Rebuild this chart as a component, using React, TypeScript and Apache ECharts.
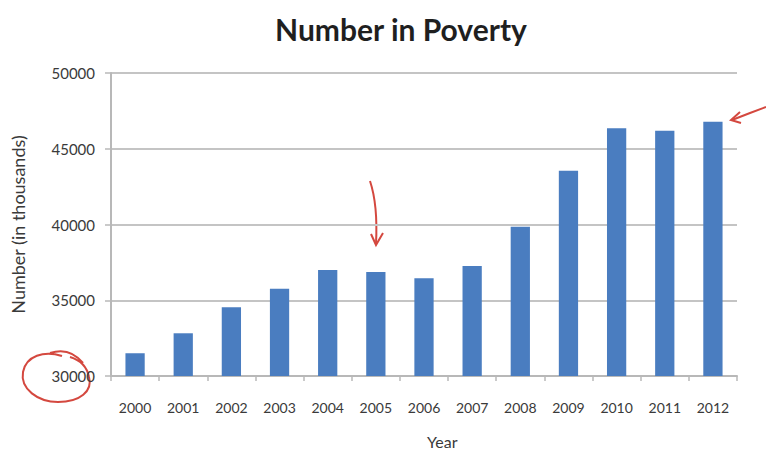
import React, { useEffect, useRef } from "react";
import * as echarts from "echarts";

const years = ["2000","2001","2002","2003","2004","2005","2006","2007","2008","2009","2010","2011","2012"];
const povertyThousands = [31500, 32820, 34530, 35760, 37000, 36870, 36450, 37260, 39850, 43550, 46350, 46190, 46780];
const yTicks = { min: 30000, max: 50000, interval: 5000 };

const circlePath =
  "M 62 356 C 44 350 26 356 23 372 C 20 389 38 402 58 402 C 80 402 93 391 89 377 C 87 367 80 360 70 357 M 50 353 C 62 349 74 352 83 363";

echarts.graphic.registerShape("circle30k", echarts.graphic.extendPath(circlePath, {}));

export default function App() {
  const ref = useRef<HTMLDivElement>(null);
  useEffect(() => {
    if (!ref.current) return;
    const chart = echarts.init(ref.current, undefined, { renderer: "svg" });
    const red = "#d4483f";
    chart.setOption({
      animation: false,
      backgroundColor: "#ffffff",
      title: {
        text: "Number in Poverty",
        left: 396,
        top: 9,
        textAlign: "center",
        textStyle: { fontFamily: "Lato", fontWeight: "bold", fontSize: 30, color: "#1f1f1f" },
      },
      grid: { left: 111, right: 29, top: 73, bottom: 79, containLabel: false },
      xAxis: {
        type: "category",
        data: years,
        axisLine: { lineStyle: { color: "#b8b8b8", width: 2 } },
        axisTick: { show: true, length: 5, lineStyle: { color: "#b8b8b8", width: 1.5 } },
        axisLabel: { fontFamily: "Lato", fontSize: 14, color: "#3a3a3a", margin: 24 },
      },
      yAxis: {
        type: "value",
        min: yTicks.min,
        max: yTicks.max,
        interval: yTicks.interval,
        name: "Number (in thousands)",
        nameLocation: "middle",
        nameGap: 84,
        nameTextStyle: { fontFamily: "Lato", fontSize: 18, color: "#3a3a3a" },
        axisLine: { show: true, lineStyle: { color: "#b8b8b8", width: 2 } },
        axisTick: { show: true, length: 6, lineStyle: { color: "#b8b8b8", width: 1.5 } },
        axisLabel: {
          fontFamily: "Lato",
          fontSize: 15,
          color: "#3a3a3a",
          margin: 16,
          formatter: (v: number) => String(v),
        },
        splitLine: { lineStyle: { color: "#c4c4c4", width: 2 } },
      },
      series: [
        {
          type: "bar",
          data: povertyThousands,
          barWidth: "40%",
          itemStyle: { color: "#4a7dc0" },
        },
      ],
      graphic: [
        {
          type: "text",
          left: 427,
          top: 433,
          style: { text: "Year", font: "16px Lato", fill: "#3a3a3a" },
        },
        {
          type: "circle30k",
          x: 0,
          y: 0,
          style: { fill: "none", stroke: red, lineWidth: 2 },
        },
        {
          type: "bezierCurve",
          shape: { x1: 370, y1: 181, cpx1: 378, cpy1: 205, x2: 376, y2: 244 },
          style: { fill: "none", stroke: red, lineWidth: 2 },
        },
        {
          type: "polyline",
          shape: { points: [[371, 234], [376, 245], [383, 233]] },
          style: { fill: "none", stroke: red, lineWidth: 2 },
        },
        {
          type: "polyline",
          shape: { points: [[766, 107], [750, 113], [732, 120]] },
          style: { fill: "none", stroke: red, lineWidth: 2 },
        },
        {
          type: "polyline",
          shape: { points: [[740, 112], [731, 120], [741, 123]] },
          style: { fill: "none", stroke: red, lineWidth: 2 },
        },
      ],
    });
    return () => chart.dispose();
  }, []);
  return <div ref={ref} style={{ width: 766, height: 455, position: "absolute", left: 0, top: 0 }} />;
}
